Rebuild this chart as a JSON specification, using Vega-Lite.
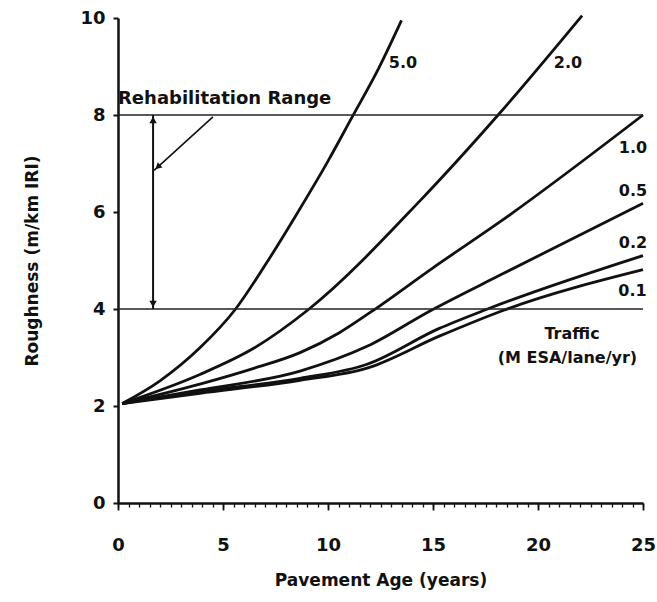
{
  "$schema": "https://vega.github.io/schema/vega-lite/v6.json",
  "autosize": {"type": "none"},
  "padding": {"left": 118, "top": 18, "right": 14, "bottom": 99},
  "width": 525,
  "height": 485,
  "background": "white",
  "config": {
    "view": {"stroke": null},
    "font": "DejaVu Sans",
    "axis": {"grid": false, "domainColor": "#111", "tickColor": "#111", "labelColor": "#111", "titleColor": "#111"}
  },
  "resolve": {"axis": {"x": "independent"}},
  "datasets": {
    "curves": [
      {"traffic": "5.0", "age": 0.2, "iri": 2.05},
      {"traffic": "5.0", "age": 2.0, "iri": 2.52},
      {"traffic": "5.0", "age": 3.9, "iri": 3.2},
      {"traffic": "5.0", "age": 5.6, "iri": 4.0},
      {"traffic": "5.0", "age": 7.0, "iri": 4.9},
      {"traffic": "5.0", "age": 8.5, "iri": 5.95},
      {"traffic": "5.0", "age": 10.0, "iri": 7.05},
      {"traffic": "5.0", "age": 11.14, "iri": 7.95},
      {"traffic": "5.0", "age": 12.4, "iri": 8.95},
      {"traffic": "5.0", "age": 13.5, "iri": 9.95},
      {"traffic": "2.0", "age": 0.2, "iri": 2.05},
      {"traffic": "2.0", "age": 3.9, "iri": 2.65},
      {"traffic": "2.0", "age": 6.5, "iri": 3.2},
      {"traffic": "2.0", "age": 9.1, "iri": 4.0},
      {"traffic": "2.0", "age": 14.4, "iri": 6.24},
      {"traffic": "2.0", "age": 18.1, "iri": 8.0},
      {"traffic": "2.0", "age": 22.1, "iri": 10.05},
      {"traffic": "1.0", "age": 0.2, "iri": 2.05},
      {"traffic": "1.0", "age": 3.9, "iri": 2.45},
      {"traffic": "1.0", "age": 6.5, "iri": 2.78},
      {"traffic": "1.0", "age": 8.67, "iri": 3.1},
      {"traffic": "1.0", "age": 10.5, "iri": 3.5},
      {"traffic": "1.0", "age": 12.08, "iri": 3.95},
      {"traffic": "1.0", "age": 15.0, "iri": 4.85},
      {"traffic": "1.0", "age": 18.2, "iri": 5.8},
      {"traffic": "1.0", "age": 25.0, "iri": 8.0},
      {"traffic": "0.5", "age": 0.2, "iri": 2.05},
      {"traffic": "0.5", "age": 3.9, "iri": 2.33},
      {"traffic": "0.5", "age": 8.67, "iri": 2.72},
      {"traffic": "0.5", "age": 11.86, "iri": 3.23},
      {"traffic": "0.5", "age": 14.9, "iri": 3.97},
      {"traffic": "0.5", "age": 18.2, "iri": 4.7},
      {"traffic": "0.5", "age": 25.0, "iri": 6.18},
      {"traffic": "0.2", "age": 0.2, "iri": 2.05},
      {"traffic": "0.2", "age": 3.9, "iri": 2.3},
      {"traffic": "0.2", "age": 8.67, "iri": 2.57},
      {"traffic": "0.2", "age": 11.86, "iri": 2.86},
      {"traffic": "0.2", "age": 15.3, "iri": 3.6},
      {"traffic": "0.2", "age": 17.6, "iri": 4.0},
      {"traffic": "0.2", "age": 25.0, "iri": 5.1},
      {"traffic": "0.1", "age": 0.2, "iri": 2.05},
      {"traffic": "0.1", "age": 3.9, "iri": 2.26},
      {"traffic": "0.1", "age": 8.67, "iri": 2.53},
      {"traffic": "0.1", "age": 11.86, "iri": 2.78},
      {"traffic": "0.1", "age": 15.3, "iri": 3.44},
      {"traffic": "0.1", "age": 18.4, "iri": 3.98},
      {"traffic": "0.1", "age": 25.0, "iri": 4.81}
    ],
    "levels": [{"iri": 4}, {"iri": 8}],
    "range": [{"age": 1.67, "lo": 4, "hi": 8}],
    "pointer": [{"age": 4.52, "iri": 7.96, "age2": 1.72, "iri2": 6.86}],
    "curveLabels": [
      {"label": "5.0", "age": 13.57, "iri": 9.07},
      {"label": "2.0", "age": 21.43, "iri": 9.07},
      {"label": "1.0", "age": 24.52, "iri": 7.31},
      {"label": "0.5", "age": 24.52, "iri": 6.44},
      {"label": "0.2", "age": 24.52, "iri": 5.36},
      {"label": "0.1", "age": 24.5, "iri": 4.37}
    ],
    "notes": [
      {"label": "Traffic", "age": 21.62, "iri": 3.48},
      {"label": "(M ESA/lane/yr)", "age": 21.4, "iri": 2.98}
    ],
    "title": [{"label": "Rehabilitation Range", "age": 0.0, "iri": 8.34}]
  },
  "layer": [
    {
      "data": {"name": "curves"},
      "mark": {"type": "line", "color": "#111", "strokeWidth": 2.8, "interpolate": "monotone"},
      "encoding": {
        "x": {"field": "age", "type": "quantitative", "scale": {"domain": [0, 25], "nice": false},
          "axis": {"orient": "bottom", "values": [0, 5, 10, 15, 20, 25], "labelOverlap": false, "labelFlush": false,
            "title": "Pavement Age (years)", "labelFontSize": 18, "labelFontWeight": "bold", "labelPadding": 26,
            "tickSize": 7, "tickWidth": 1.8, "domainWidth": 2.5, "titleFontSize": 17, "titleFontWeight": "bold", "titlePadding": 18}},
        "y": {"field": "iri", "type": "quantitative", "scale": {"domain": [0, 10], "nice": false},
          "axis": {"values": [0, 2, 4, 6, 8, 10], "title": "Roughness (m/km IRI)", "labelFontSize": 18, "labelFontWeight": "bold", "labelPadding": 8, "tickSize": 5, "tickWidth": 2, "domainWidth": 2.5, "titleFontSize": 17, "titleFontWeight": "bold", "titlePadding": 38}},
        "detail": {"field": "traffic"}
      }
    },
    {
      "data": {"name": "curves"},
      "mark": {"type": "point", "opacity": 0, "size": 1},
      "encoding": {
        "x": {"field": "age", "type": "quantitative",
          "axis": {"orient": "bottom", "values": [0,0.5,1,1.5,2,2.5,3,3.5,4,4.5,5,5.5,6,6.5,7,7.5,8,8.5,9,9.5,10,10.5,11,11.5,12,12.5,13,13.5,14,14.5,15,15.5,16,16.5,17,17.5,18,18.5,19,19.5,20,20.5,21,21.5,22,22.5,23,23.5,24,24.5,25],
            "labels": false, "domain": false, "title": null, "tickSize": 4, "tickWidth": 1.3}},
        "y": {"field": "iri", "type": "quantitative"}
      }
    },
    {
      "data": {"name": "levels"},
      "mark": {"type": "rule", "color": "#222", "strokeWidth": 1.5},
      "encoding": {
        "y": {"field": "iri", "type": "quantitative"}
      }
    },
    {
      "data": {"name": "range"},
      "mark": {"type": "rule", "color": "#111", "strokeWidth": 2},
      "encoding": {
        "x": {"field": "age", "type": "quantitative", "axis": null},
        "y": {"field": "lo", "type": "quantitative"},
        "y2": {"field": "hi"}
      }
    },
    {
      "data": {"name": "range"},
      "mark": {"type": "point", "shape": "triangle-up", "filled": true, "color": "#111", "size": 55, "opacity": 1, "yOffset": 5},
      "encoding": {
        "x": {"field": "age", "type": "quantitative", "axis": null},
        "y": {"field": "hi", "type": "quantitative"}
      }
    },
    {
      "data": {"name": "range"},
      "mark": {"type": "point", "shape": "triangle-down", "filled": true, "color": "#111", "size": 55, "opacity": 1, "yOffset": -5},
      "encoding": {
        "x": {"field": "age", "type": "quantitative", "axis": null},
        "y": {"field": "lo", "type": "quantitative"}
      }
    },
    {
      "data": {"name": "pointer"},
      "mark": {"type": "rule", "color": "#111", "strokeWidth": 1.6},
      "encoding": {
        "x": {"field": "age", "type": "quantitative", "axis": null},
        "y": {"field": "iri", "type": "quantitative"},
        "x2": {"field": "age2"},
        "y2": {"field": "iri2"}
      }
    },
    {
      "data": {"name": "pointer"},
      "mark": {"type": "point", "shape": "triangle-up", "filled": true, "color": "#111", "size": 50, "opacity": 1, "angle": 228, "xOffset": 3.7, "yOffset": -3.4},
      "encoding": {
        "x": {"field": "age2", "type": "quantitative", "axis": null},
        "y": {"field": "iri2", "type": "quantitative"}
      }
    },
    {
      "data": {"name": "curveLabels"},
      "mark": {"type": "text", "fontSize": 16, "fontWeight": "bold", "color": "#111", "align": "center", "baseline": "middle"},
      "encoding": {
        "x": {"field": "age", "type": "quantitative", "axis": null},
        "y": {"field": "iri", "type": "quantitative"},
        "text": {"field": "label"}
      }
    },
    {
      "data": {"name": "notes"},
      "mark": {"type": "text", "fontSize": 16, "fontWeight": "bold", "color": "#111", "align": "center", "baseline": "middle"},
      "encoding": {
        "x": {"field": "age", "type": "quantitative", "axis": null},
        "y": {"field": "iri", "type": "quantitative"},
        "text": {"field": "label"}
      }
    },
    {
      "data": {"name": "title"},
      "mark": {"type": "text", "fontSize": 18, "fontWeight": "bold", "color": "#111", "align": "left", "baseline": "middle"},
      "encoding": {
        "x": {"field": "age", "type": "quantitative", "axis": null},
        "y": {"field": "iri", "type": "quantitative"},
        "text": {"field": "label"}
      }
    }
  ]
}
